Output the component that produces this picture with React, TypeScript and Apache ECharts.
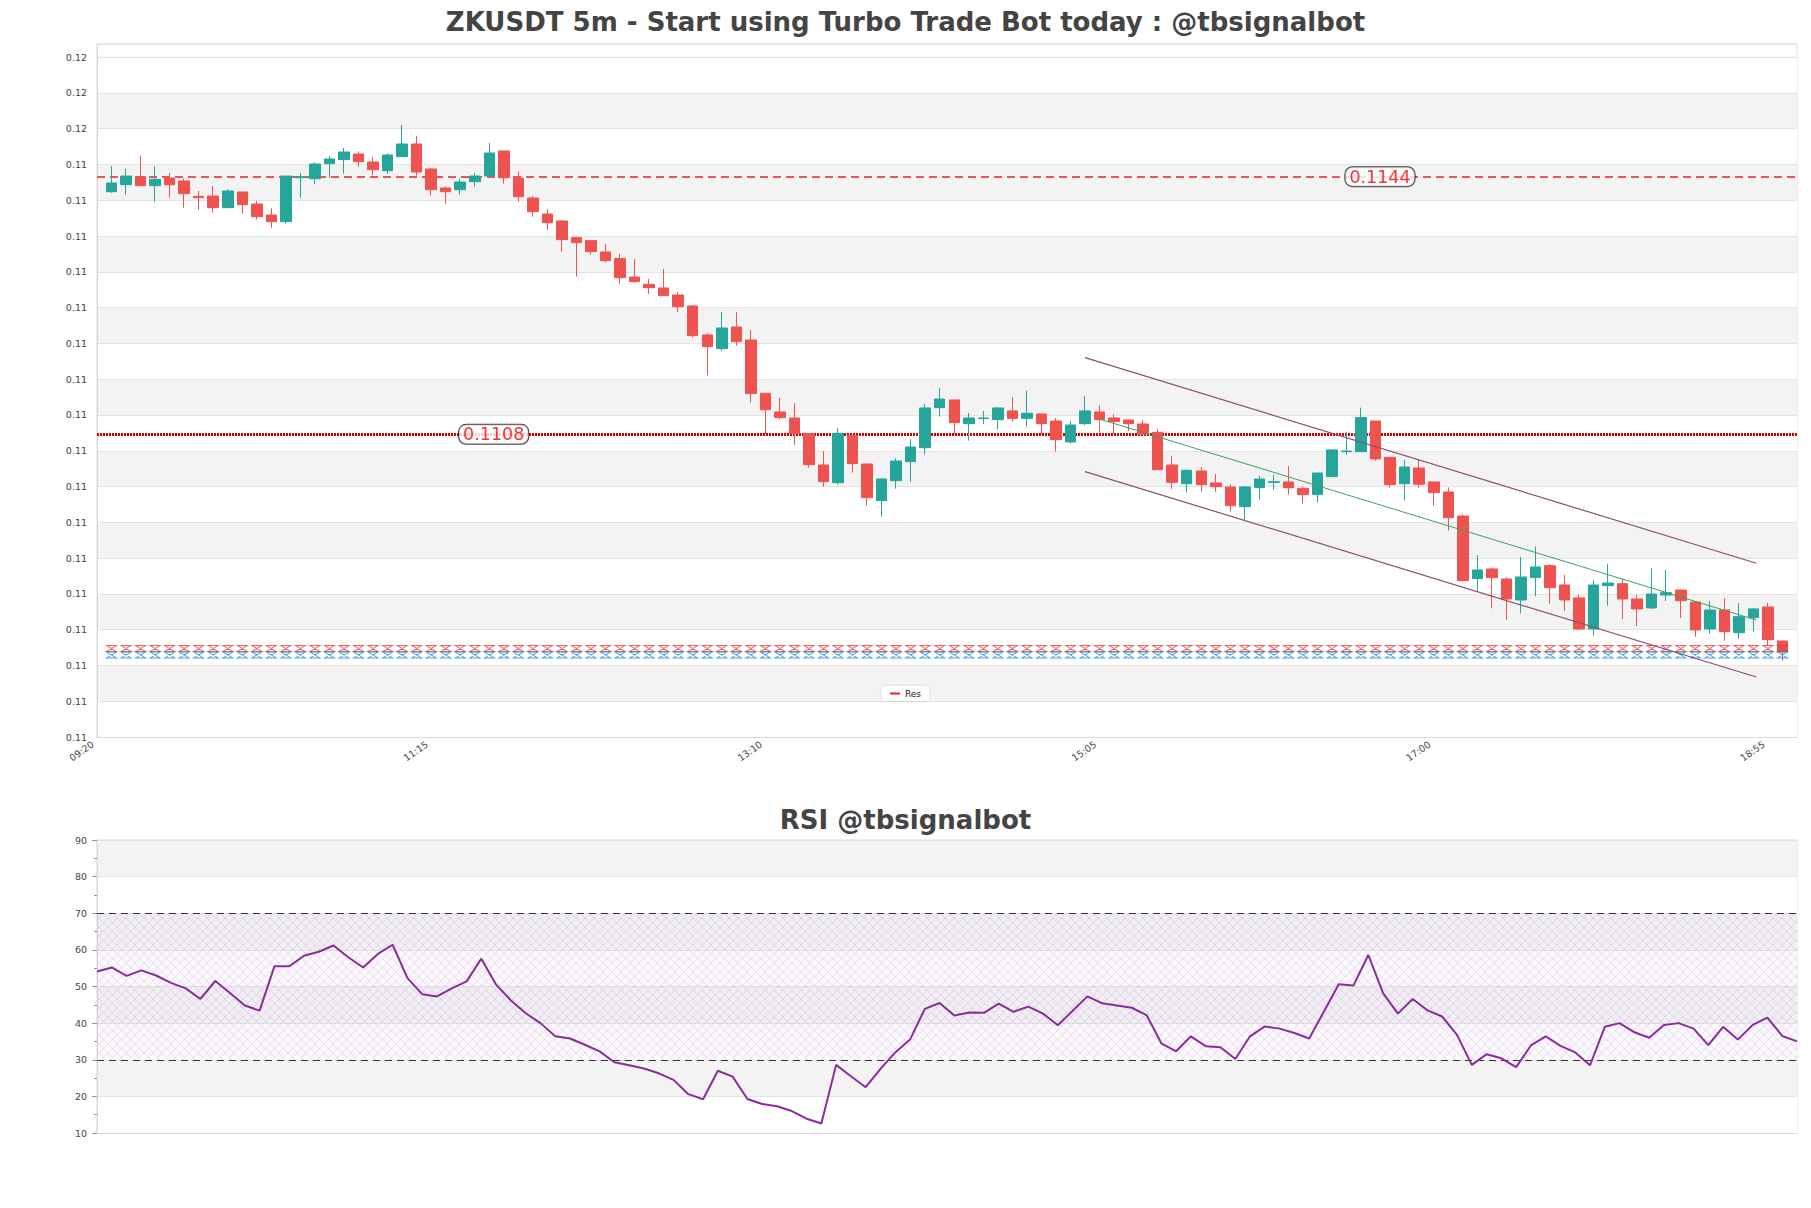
import React, { useEffect, useRef } from 'react';
import * as echarts from 'echarts';

const FONT = 'DejaVu Sans';

// ---------- categories ----------
const startMinutes = 9 * 60 + 20;
const candleCount = 116;
const times: string[] = Array.from({ length: candleCount }, (_, i) => {
  const m = startMinutes + 5 * i;
  return `${String(Math.floor(m / 60)).padStart(2, '0')}:${String(m % 60).padStart(2, '0')}`;
});
const xTickLabels = ['09:20', '11:15', '13:10', '15:05', '17:00', '18:55'];

// ---------- candle values ----------
const opens = [
  0.114190, 0.114288, 0.114400, 0.114274, 0.114381, 0.114340, 0.114125, 0.114130, 0.113967, 0.114186,
  0.114018, 0.113864, 0.113771, 0.114386, 0.114372, 0.114582, 0.114638, 0.114717, 0.114605, 0.114484,
  0.114680, 0.114857, 0.114507, 0.114242, 0.114218, 0.114330, 0.114409, 0.114759, 0.114377, 0.114102,
  0.113878, 0.113781, 0.113548, 0.113506, 0.113348, 0.113255, 0.112998, 0.112896, 0.112845, 0.112747,
  0.112593, 0.112188, 0.111997, 0.112300, 0.112118, 0.111373, 0.111112, 0.111028, 0.110809, 0.110371,
  0.110124, 0.110781, 0.110385, 0.109873, 0.110152, 0.110418, 0.110613, 0.111172, 0.111280, 0.110949,
  0.111019, 0.111005, 0.111126, 0.111023, 0.111084, 0.110986, 0.110693, 0.110949, 0.111112, 0.111028,
  0.111000, 0.110944, 0.110828, 0.110371, 0.110110, 0.110287, 0.110120, 0.110064, 0.109789, 0.110054,
  0.110129, 0.110134, 0.110045, 0.109957, 0.110208, 0.110557, 0.110557, 0.110986, 0.110478, 0.110110,
  0.110329, 0.110134, 0.109994, 0.109658, 0.108783, 0.108918, 0.108778, 0.108485, 0.108797, 0.108964,
  0.108694, 0.108513, 0.108079, 0.108685, 0.108713, 0.108499, 0.108373, 0.108554, 0.108624, 0.108457,
  0.108079, 0.108345, 0.108028, 0.108238, 0.108387, 0.107912,
];
const closes = [
  0.114312, 0.114409, 0.114274, 0.114363, 0.114288, 0.114163, 0.114107, 0.113967, 0.114200, 0.114009,
  0.113841, 0.113771, 0.114409, 0.114400, 0.114577, 0.114647, 0.114745, 0.114610, 0.114498, 0.114703,
  0.114857, 0.114465, 0.114218, 0.114190, 0.114326, 0.114409, 0.114731, 0.114386, 0.114121, 0.113911,
  0.113757, 0.113520, 0.113478, 0.113352, 0.113227, 0.112989, 0.112933, 0.112849, 0.112738, 0.112584,
  0.112179, 0.112025, 0.112286, 0.112095, 0.111368, 0.111144, 0.111033, 0.110809, 0.110376, 0.110138,
  0.110814, 0.110390, 0.109915, 0.110176, 0.110427, 0.110623, 0.111168, 0.111293, 0.110963, 0.111028,
  0.111028, 0.111168, 0.111023, 0.111093, 0.110949, 0.110725, 0.110930, 0.111126, 0.111005, 0.110977,
  0.110949, 0.110800, 0.110306, 0.110129, 0.110297, 0.110096, 0.110068, 0.109803, 0.110064, 0.110175,
  0.110138, 0.110054, 0.109957, 0.110259, 0.110581, 0.110567, 0.111033, 0.110455, 0.110096, 0.110343,
  0.110101, 0.109985, 0.109635, 0.108755, 0.108904, 0.108797, 0.108499, 0.108806, 0.108946, 0.108657,
  0.108485, 0.108079, 0.108694, 0.108722, 0.108499, 0.108359, 0.108568, 0.108587, 0.108475, 0.108065,
  0.108345, 0.108042, 0.108252, 0.108359, 0.107930, 0.107763,
];
const lows = [
  0.114176, 0.114149, 0.114274, 0.114051, 0.114107, 0.113967, 0.113934, 0.113897, 0.113967, 0.113883,
  0.113804, 0.113687, 0.113743, 0.114107, 0.114293, 0.114386, 0.114442, 0.114540, 0.114419, 0.114442,
  0.114680, 0.114414, 0.114135, 0.114023, 0.114149, 0.114260, 0.114400, 0.114302, 0.114051, 0.113841,
  0.113660, 0.113352, 0.113003, 0.113306, 0.113199, 0.112901, 0.112919, 0.112761, 0.112738, 0.112509,
  0.112151, 0.111620, 0.111964, 0.112039, 0.111242, 0.110804, 0.111005, 0.110655, 0.110334, 0.110064,
  0.110096, 0.110264, 0.109803, 0.109649, 0.110041, 0.110138, 0.110516, 0.111047, 0.110809, 0.110711,
  0.110944, 0.110865, 0.110977, 0.110907, 0.110809, 0.110558, 0.110669, 0.110925, 0.110809, 0.110814,
  0.110846, 0.110790, 0.110306, 0.110036, 0.109985, 0.109998, 0.109998, 0.109719, 0.109589, 0.109887,
  0.110026, 0.109957, 0.109831, 0.109845, 0.110208, 0.110511, 0.110557, 0.110432, 0.110054, 0.109873,
  0.110054, 0.109803, 0.109454, 0.108755, 0.108601, 0.108368, 0.108205, 0.108298, 0.108540, 0.108433,
  0.108331, 0.108065, 0.107986, 0.108405, 0.108219, 0.108121, 0.108359, 0.108471, 0.108233, 0.107972,
  0.108014, 0.107916, 0.107940, 0.108042, 0.107846, 0.107637,
];
const highs = [
  0.114549, 0.114507, 0.114694, 0.114549, 0.114451, 0.114377, 0.114200, 0.114270, 0.114223, 0.114186,
  0.114060, 0.113958, 0.114409, 0.114451, 0.114600, 0.114689, 0.114801, 0.114754, 0.114675, 0.114726,
  0.115122, 0.114968, 0.114526, 0.114265, 0.114377, 0.114451, 0.114871, 0.114759, 0.114475, 0.114130,
  0.113948, 0.113795, 0.113562, 0.113515, 0.113459, 0.113320, 0.113250, 0.112970, 0.113110, 0.112789,
  0.112607, 0.112211, 0.112509, 0.112509, 0.112258, 0.111373, 0.111307, 0.111238, 0.110809, 0.110567,
  0.110888, 0.110781, 0.110385, 0.110185, 0.110464, 0.110730, 0.111224, 0.111447, 0.111280, 0.111098,
  0.111126, 0.111182, 0.111321, 0.111410, 0.111084, 0.111028, 0.110986, 0.111335, 0.111205, 0.111079,
  0.111000, 0.110995, 0.110870, 0.110497, 0.110311, 0.110343, 0.110245, 0.110101, 0.110078, 0.110217,
  0.110231, 0.110357, 0.110068, 0.110259, 0.110590, 0.110837, 0.111172, 0.110986, 0.110478, 0.110441,
  0.110441, 0.110134, 0.110059, 0.109682, 0.109113, 0.108941, 0.108806, 0.109085, 0.109230, 0.108983,
  0.108834, 0.108554, 0.108764, 0.108988, 0.108778, 0.108554, 0.108932, 0.108904, 0.108624, 0.108457,
  0.108471, 0.108508, 0.108443, 0.108373, 0.108443, 0.107912,
];

// ---------- RSI values ----------
const rsiValues = [
  54.1, 55.2, 52.9, 54.4, 53.0, 51.0, 49.5, 46.6, 51.5, 48.2,
  44.8, 43.4, 55.5, 55.5, 58.4, 59.5, 61.2, 58.0, 55.2, 58.9,
  61.4, 52.3, 47.9, 47.3, 49.5, 51.4, 57.6, 50.5, 46.2, 42.7,
  40.0, 36.4, 35.8, 34.1, 32.3, 29.3, 28.5, 27.6, 26.3, 24.5,
  20.6, 19.2, 27.0, 25.4, 19.3, 17.9, 17.3, 16.0, 13.9, 12.6,
  28.6, 25.5, 22.5, 27.5, 32.0, 35.5, 43.9, 45.5, 42.1, 42.9,
  42.8, 45.3, 43.1, 44.5, 42.6, 39.4, 43.4, 47.3, 45.4, 44.8,
  44.2, 42.2, 34.5, 32.3, 36.4, 33.7, 33.4, 30.2, 36.4, 39.1,
  38.5, 37.3, 35.8, 43.2, 50.6, 50.3, 58.6, 48.2, 42.6, 46.6,
  43.5, 41.8, 36.8, 28.6, 31.5, 30.4, 28.0, 33.9, 36.4, 33.8,
  32.0, 28.5, 39.0, 40.0, 37.5, 36.0, 39.5, 40.0, 38.5, 34.0,
  39.0, 35.5, 39.5, 41.5, 36.5, 35.0,
];
const rsiLevels = [70, 30];

// ---------- levels / overlays ----------
const resLevels = [0.1144, 0.1108];
const resLabelAt = [87.3, 26.3]; // candle-index position of each level's label
const markerLevelRed = 0.107807;
const markerLevelBlue = 0.107716;
const upperChannel = [[67, 0.111871], [113.2, 0.108998]];
const lowerChannel = [[67, 0.110278], [113.2, 0.107409]];
const midChannel = [[68, 0.111013], [113.2, 0.108204]];

// price axis layout
const priceMin = 0.10657;
const priceStep = 0.0005;
const priceMax = 0.116254;

const UP = '#26a69a';
const DOWN = '#ef5350';

const hatchSvg =
  "<svg xmlns='http://www.w3.org/2000/svg' width='9' height='9'>" +
  "<rect width='9' height='9' fill='rgba(190,150,215,0.06)'/>" +
  "<path d='M0 0L9 9M9 0L0 9' stroke='rgba(170,140,190,0.38)' stroke-width='0.6' fill='none'/></svg>";
const hatchUrl = 'data:image/svg+xml;charset=utf-8,' + encodeURIComponent(hatchSvg);

export default function App() {
  const ref = useRef<HTMLDivElement>(null);

  useEffect(() => {
    if (!ref.current) return;
    const chart = echarts.init(ref.current, undefined, { renderer: 'svg' });

    const cats = ['', ...times, ''];
    const candleData = times.map((_, i) => [i + 1, opens[i], closes[i], lows[i], highs[i]]);
    const redMarkers = times.map((_, i) => [i, markerLevelRed]);
    const blueMarkers = times.map((_, i) => [i, markerLevelBlue]);
    const hourglass = 'path://M0 0H10L0 8H10Z';

    const option: any = {
      animation: false,
      backgroundColor: '#ffffff',
      textStyle: { fontFamily: FONT },
      title: [
        {
          text: 'ZKUSDT 5m - Start using Turbo Trade Bot today : @tbsignalbot',
          left: 'center',
          top: 9,
          padding: 0,
          textStyle: { fontSize: 26, fontWeight: 'bold', color: '#444444', fontFamily: FONT },
        },
        {
          text: 'RSI @tbsignalbot',
          left: 'center',
          top: 807,
          padding: 0,
          textStyle: { fontSize: 26, fontWeight: 'bold', color: '#444444', fontFamily: FONT },
        },
      ],
      legend: {
        data: [{ name: 'Res', icon: 'rect' }],
        left: 'center',
        top: 686,
        itemWidth: 10,
        itemHeight: 2,
        itemGap: 4,
        padding: [3, 8],
        backgroundColor: '#ffffff',
        borderRadius: 3,
        shadowBlur: 3,
        shadowColor: 'rgba(0,0,0,0.15)',
        textStyle: { fontSize: 9, color: '#222222', fontFamily: FONT },
      },
      graphic: [
        {
          type: 'rect',
          z: 100,
          silent: true,
          shape: { x: 98, y: 45, width: 1698, height: 11.5 },
          style: { fill: '#ffffff' },
        },
      ],
      grid: [
        {
          left: 97, top: 44, width: 1700, height: 693, show: true, borderColor: '#d9d9d9', borderWidth: 1,
          backgroundColor: 'transparent', containLabel: false, outerBoundsMode: 'none',
        },
        {
          left: 97, top: 840, width: 1700, height: 293, show: true, borderColor: '#d9d9d9', borderWidth: 1,
          backgroundColor: 'transparent', containLabel: false, outerBoundsMode: 'none',
        },
      ],
      xAxis: [
        {
          type: 'category',
          gridIndex: 0,
          data: cats,
          boundaryGap: false,
          axisLine: { show: true, lineStyle: { color: '#d9d9d9' } },
          axisTick: { show: false },
          splitLine: { show: false },
          axisLabel: {
            interval: (idx: number, val: string) => idx > 0 && xTickLabels.includes(val),
            rotate: 35,
            fontSize: 9.5,
            color: '#444444',
            margin: -7,
            padding: [0, 23, 0, 0],
            fontFamily: FONT,
          },
        },
        { type: 'value', gridIndex: 0, min: -1, max: 116, show: false },
        {
          type: 'category',
          gridIndex: 1,
          data: times,
          boundaryGap: false,
          axisLine: { show: true, lineStyle: { color: '#d9d9d9' } },
          axisTick: { show: false },
          axisLabel: { show: false },
          splitLine: { show: false },
        },
      ],
      yAxis: [
        { type: 'value', gridIndex: 0, min: priceMin, max: priceMax, show: false, position: 'left' },
        {
          type: 'value',
          gridIndex: 0,
          position: 'left',
          offset: 0,
          min: 0,
          max: (priceMax - priceMin) / priceStep,
          interval: 1,
          axisLine: { show: true, lineStyle: { color: '#d9d9d9' } },
          axisTick: { show: false },
          axisLabel: {
            formatter: (v: number) => (priceMin + v * priceStep).toFixed(2),
            fontSize: 9.5,
            color: '#444444',
            margin: 10,
            showMaxLabel: false,
            fontFamily: FONT,
          },
          splitLine: { show: true, lineStyle: { color: '#e3e3e3', width: 1 } },
          splitArea: { show: true, areaStyle: { color: ['#ffffff', '#f3f3f3'] } },
        },
        {
          type: 'value',
          gridIndex: 1,
          position: 'left',
          min: 10,
          max: 90,
          interval: 10,
          axisLine: { show: true, lineStyle: { color: '#d9d9d9' } },
          axisTick: { show: true, length: 5, lineStyle: { color: '#999999' } },
          minorTick: { show: true, splitNumber: 2, length: 3, lineStyle: { color: '#999999' } },
          axisLabel: { fontSize: 9.5, color: '#444444', margin: 10, fontFamily: FONT },
          splitLine: { show: true, lineStyle: { color: '#e3e3e3', width: 1 } },
          splitArea: { show: true, areaStyle: { color: ['#ffffff', '#f3f3f3'] } },
        },
      ],
      series: [
        {
          name: 'Price',
          type: 'candlestick',
          xAxisIndex: 0,
          yAxisIndex: 0,
          data: candleData,
          encode: { x: 0, y: [1, 2, 3, 4] },
          barWidth: 11,
          itemStyle: { color: UP, color0: DOWN, borderColor: UP, borderColor0: DOWN, borderWidth: 1 },
          z: 5,
        },
        {
          name: 'Res',
          type: 'line',
          xAxisIndex: 1,
          yAxisIndex: 0,
          data: [],
          itemStyle: { color: '#e0262b' },
          lineStyle: { color: '#e0262b' },
          markLine: {
            silent: true,
            precision: 6,
            symbol: 'none',
            label: { show: false },
            data: [
              { yAxis: resLevels[0], lineStyle: { color: '#e0262b', type: [8, 5], width: 1.5 } },
              { yAxis: resLevels[1], lineStyle: { color: '#d40000', type: [2, 1], width: 3 } },
            ],
          },
          z: 4,
        },
        {
          name: 'ResLabels',
          type: 'scatter',
          xAxisIndex: 1,
          yAxisIndex: 0,
          data: resLevels.map((v, i) => [resLabelAt[i], v]),
          symbolSize: 1,
          itemStyle: { color: 'rgba(0,0,0,0)' },
          label: {
            show: true,
            position: 'inside',
            formatter: (p: any) => Number(p.value[1]).toFixed(4),
            fontSize: 17.5,
            lineHeight: 18,
            color: '#ee0000',
            backgroundColor: '#ffffff',
            borderColor: '#111111',
            borderWidth: 1,
            borderRadius: 7,
            padding: [1, 4, 0, 4],
            fontFamily: FONT,
          },
          z: 12,
        },
        {
          name: 'MarkRed',
          type: 'scatter',
          xAxisIndex: 1,
          yAxisIndex: 0,
          data: redMarkers,
          symbol: hourglass,
          symbolSize: [10, 6],
          itemStyle: { color: 'rgba(0,0,0,0)', borderColor: '#e53935', borderWidth: 1.1 },
          z: 6,
        },
        {
          name: 'MarkBlue',
          type: 'scatter',
          xAxisIndex: 1,
          yAxisIndex: 0,
          data: blueMarkers,
          symbol: hourglass,
          symbolSize: [10, 6],
          itemStyle: { color: 'rgba(0,0,0,0)', borderColor: '#1e88e5', borderWidth: 1.1 },
          z: 6,
        },
        {
          name: 'ChannelUpper',
          type: 'line',
          xAxisIndex: 1,
          yAxisIndex: 0,
          data: upperChannel,
          showSymbol: false,
          lineStyle: { color: '#8b4f72', width: 1.2 },
          z: 7,
        },
        {
          name: 'ChannelLower',
          type: 'line',
          xAxisIndex: 1,
          yAxisIndex: 0,
          data: lowerChannel,
          showSymbol: false,
          lineStyle: { color: '#8b4f72', width: 1.2 },
          z: 7,
        },
        {
          name: 'ChannelMid',
          type: 'line',
          xAxisIndex: 1,
          yAxisIndex: 0,
          data: midChannel,
          showSymbol: false,
          lineStyle: { color: '#3aa35a', width: 1 },
          z: 7,
        },
        {
          name: 'RSI',
          type: 'line',
          xAxisIndex: 2,
          yAxisIndex: 2,
          data: rsiValues,
          showSymbol: false,
          lineStyle: { color: '#8b2c9e', width: 2 },
          itemStyle: { color: '#8b2c9e' },
          markArea: {
            silent: true,
            itemStyle: {
              color: { image: hatchUrl, repeat: 'repeat', imageWidth: 9, imageHeight: 9 },
            },
            data: [[{ yAxis: rsiLevels[1] }, { yAxis: rsiLevels[0] }]],
          },
          markLine: {
            silent: true,
            symbol: 'none',
            label: { show: false },
            lineStyle: { color: '#333333', type: [7, 5], width: 1.2 },
            data: rsiLevels.map((v) => ({ yAxis: v })),
          },
          z: 5,
        },
      ],
    };

    chart.setOption(option);
    return () => chart.dispose();
  }, []);

  return (
    <div
      ref={ref}
      style={{ position: 'absolute', left: 0, top: 0, width: 1811, height: 1208, background: '#fff' }}
    />
  );
}
